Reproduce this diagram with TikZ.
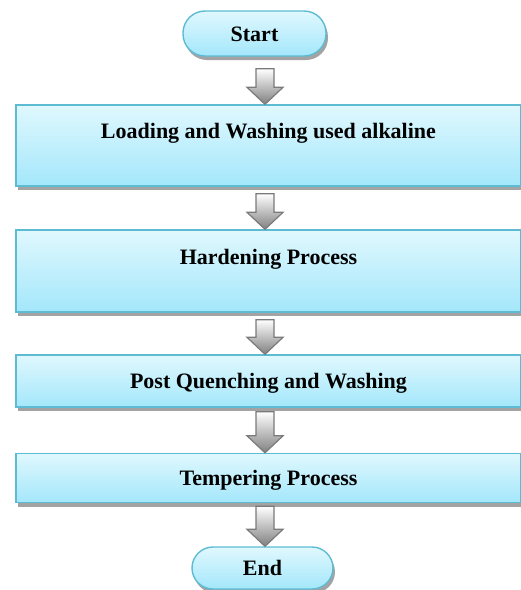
\documentclass[tikz,border=0pt]{standalone}
\usepackage{fontspec}
\setmainfont{Liberation Serif}
\usetikzlibrary{calc,shadows}

\definecolor{boxtop}{HTML}{E0F8FE}
\definecolor{boxbot}{HTML}{A3E7FB}
\definecolor{boxline}{HTML}{5DBCD4}
\definecolor{shadowgray}{HTML}{A3A3A3}
\definecolor{arrowline}{HTML}{7A7A7A}

\newcommand{\flowarrow}[3][7pt]{%
  \path[blockarrow] ($(axis |- #2.south)+(-9pt,-#1)$) -- ($(axis |- #2.south)+(9pt,-#1)$)
    -- ($(axis |- #3.north)+(9pt,17pt)$) -- ($(axis |- #3.north)+(18pt,17pt)$)
    -- (axis |- #3.north) -- ($(axis |- #3.north)+(-18pt,17pt)$)
    -- ($(axis |- #3.north)+(-9pt,17pt)$) -- cycle;}

\begin{document}
\begin{tikzpicture}[x=1pt,y=-1pt,
  every node/.style={font=\fontsize{22}{26}\selectfont\bfseries, text=black},
  stepbox/.style={draw=boxline, line width=1.4pt, top color=boxtop, bottom color=boxbot,
    minimum width=505pt, inner sep=0pt, text height=15pt, text depth=0pt,
    drop shadow={shadow xshift=2pt, shadow yshift=-4pt, fill=shadowgray, opacity=1}},
  tallbox/.style={stepbox, text height=15pt, text depth=29pt},
  pill/.style={stepbox, rounded corners=22pt, minimum height=45pt},
  blockarrow/.style={draw=arrowline, line width=1.2pt, top color=white, bottom color=black!50}]
  \useasboundingbox (0,0) rectangle (521,590);
  \coordinate (axis) at (265,0);

  \node[pill, minimum width=143pt] (start) at (254.5,33.5) {Start};
  \node[tallbox, minimum height=81pt] (load) at (268.5,145.5) {Loading and Washing used alkaline};
  \node[tallbox, minimum height=82pt] (harden) at (268.5,271) {Hardening Process};
  \node[stepbox, minimum height=52pt] (quench) at (268.5,381) {Post Quenching and Washing};
  \node[stepbox, minimum height=49pt] (temper) at (268.5,478) {Tempering Process};
  \node[pill, minimum width=141pt, minimum height=42pt, rounded corners=21pt] (stop) at (262.5,568) {End};

  \flowarrow[12pt]{start}{load}
  \flowarrow{load}{harden}
  \flowarrow{harden}{quench}
  \flowarrow[4pt]{quench}{temper}
  \flowarrow[3pt]{temper}{stop}
\end{tikzpicture}
\end{document}
